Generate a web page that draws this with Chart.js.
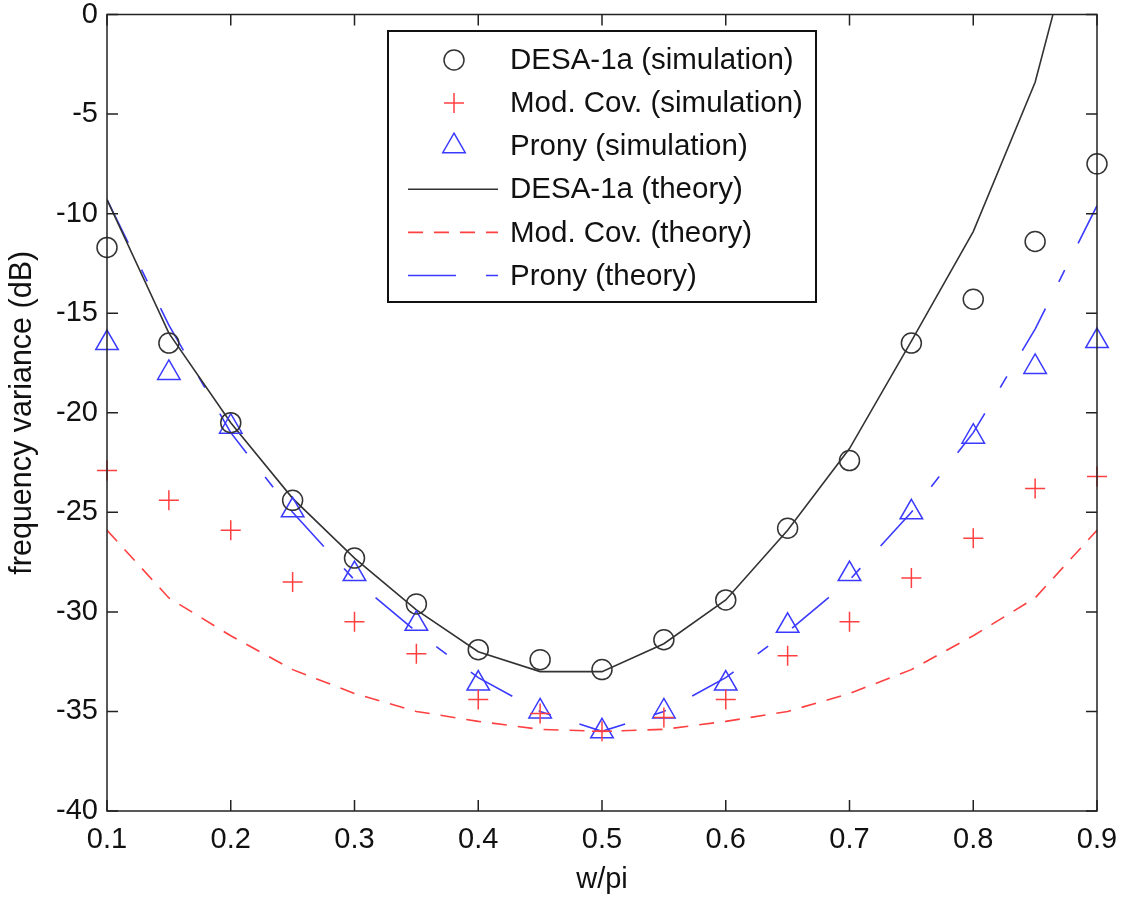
<!DOCTYPE html>
<html>
<head>
<meta charset="utf-8">
<script src="https://cdn.jsdelivr.net/npm/chart.js@4.4.1/dist/chart.umd.min.js"></script>
<style>
  html, body { margin: 0; padding: 0; background: #fff; }
  #wrap { width: 1143px; height: 900px; }
</style>
</head>
<body>
<div id="wrap"><canvas id="demo" width="1143" height="900"></canvas></div>
<script>
// values (dB)
const wpi = [0.1, 0.15, 0.2, 0.25, 0.3, 0.35, 0.4, 0.45, 0.5, 0.55, 0.6, 0.65, 0.7, 0.75, 0.8, 0.85, 0.9];

const desaSim   = [-11.7, -16.5, -20.5, -24.4, -27.3, -29.6, -31.9, -32.4, -32.9, -31.4, -29.4, -25.8, -22.4, -16.5, -14.3, -11.4, -7.5];
const modCovSim = [-22.9, -24.4, -25.9, -28.5, -30.5, -32.1, -34.4, -35.1, -36.0, -35.3, -34.4, -32.2, -30.5, -28.3, -26.3, -23.8, -23.2];
const pronySim  = [-16.5, -18.0, -20.7, -24.9, -28.1, -30.6, -33.6, -35.0, -36.0, -35.0, -33.6, -30.7, -28.1, -25.0, -21.2, -17.7, -16.4];

const desaTheory   = [-9.3, -16.0, -20.5, -24.3, -27.3, -29.9, -32.0, -33.0, -33.0, -31.6, -29.4, -25.9, -21.8, -16.4, -10.9, -3.4, 8.4];
const modCovTheory = [-25.9, -29.3, -31.2, -32.9, -34.1, -35.0, -35.5, -35.9, -36.0, -35.9, -35.5, -35.0, -34.1, -32.9, -31.2, -29.3, -25.9];
const pronyTheory  = [-9.3, -15.6, -21.0, -25.0, -28.4, -31.0, -33.3, -35.0, -36.0, -35.0, -33.3, -31.0, -28.4, -25.0, -21.0, -15.8, -9.6];

const xTicks = [0.1, 0.2, 0.3, 0.4, 0.5, 0.6, 0.7, 0.8, 0.9];
const yTicks = [-40, -35, -30, -25, -20, -15, -10, -5, 0];

const FONT = '"Liberation Sans", Arial, Helvetica, sans-serif';
const BLACK = "#333333";
const RED = "#ff4040";
const BLUE = "#3a3aff";

const pts = (ys) => wpi.map((x, i) => ({ x: x, y: ys[i] }));

// MATLAB-like box with inward ticks, plus the boxed legend
const matlabBox = {
  id: "matlabBox",
  afterDraw(chart) {
    const { ctx, chartArea: a, scales } = chart;
    ctx.save();
    ctx.strokeStyle = "#222";
    ctx.lineWidth = 1.5;
    ctx.strokeRect(a.left, a.top, a.right - a.left, a.bottom - a.top);
    ctx.beginPath();
    const tl = 11;
    xTicks.forEach((v) => {
      const px = scales.x.getPixelForValue(v);
      ctx.moveTo(px, a.bottom); ctx.lineTo(px, a.bottom - tl);
      ctx.moveTo(px, a.top); ctx.lineTo(px, a.top + tl);
    });
    yTicks.forEach((v) => {
      const py = scales.y.getPixelForValue(v);
      ctx.moveTo(a.left, py); ctx.lineTo(a.left + tl, py);
      ctx.moveTo(a.right, py); ctx.lineTo(a.right - tl, py);
    });
    ctx.stroke();

    // legend
    const lx = 388, ly = 31, lw = 428, lh = 271;
    ctx.fillStyle = "#fff";
    ctx.fillRect(lx, ly, lw, lh);
    ctx.strokeStyle = "#111";
    ctx.lineWidth = 2;
    ctx.strokeRect(lx, ly, lw, lh);

    ctx.font = "29.5px " + FONT;
    ctx.textBaseline = "middle";
    ctx.textAlign = "left";
    chart.data.datasets.forEach((ds, i) => {
      const cy = 60 + i * 43.1;
      if (ds.showLine === false) {
        ctx.fillStyle = "rgba(0,0,0,0)";
        ctx.strokeStyle = ds.borderColor;
        ctx.lineWidth = ds.pointBorderWidth;
        Chart.helpers.drawPoint(ctx, {
          pointStyle: ds.pointStyle,
          radius: ds.pointRadius,
          borderWidth: ds.pointBorderWidth,
          rotation: 0
        }, 454, cy);
      } else {
        ctx.strokeStyle = ds.borderColor;
        ctx.lineWidth = ds.borderWidth;
        ctx.setLineDash(ds.borderDash || []);
        ctx.beginPath();
        ctx.moveTo(408, cy); ctx.lineTo(498, cy);
        ctx.stroke();
        ctx.setLineDash([]);
      }
      ctx.fillStyle = "#111";
      ctx.fillText(ds.label, 510, cy + 1);
    });
    ctx.restore();
  }
};

const marker = (label, ys, style, color, r) => ({
  label: label,
  data: pts(ys),
  showLine: false,
  clip: false,
  pointStyle: style,
  pointRadius: r,
  pointBorderWidth: 1.5,
  borderColor: color,
  pointBorderColor: color,
  backgroundColor: "transparent",
  pointBackgroundColor: "transparent"
});

const theory = (label, ys, color, dash) => ({
  label: label,
  data: pts(ys),
  borderColor: color,
  borderWidth: 1.6,
  borderDash: dash,
  pointRadius: 0,
  tension: 0,
  fill: false
});

const ctx = document.getElementById("demo").getContext("2d");
new Chart(ctx, {
  type: "line",
  data: {
    datasets: [
      marker("DESA-1a (simulation)", desaSim, "circle", BLACK, 10),
      marker("Mod. Cov. (simulation)", modCovSim, "cross", RED, 10),
      marker("Prony (simulation)", pronySim, "triangle", BLUE, 13),
      theory("DESA-1a (theory)", desaTheory, BLACK, []),
      theory("Mod. Cov. (theory)", modCovTheory, RED, [15, 11]),
      theory("Prony (theory)", pronyTheory, BLUE, [48, 30, 13, 30])
    ]
  },
  options: {
    responsive: false,
    animation: false,
    layout: { padding: { top: 14, right: 46, left: 0, bottom: 0 } },
    plugins: {
      legend: { display: false },
      tooltip: { enabled: false }
    },
    scales: {
      x: {
        type: "linear",
        min: 0.1,
        max: 0.9,
        grid: { display: false },
        border: { display: false },
        afterBuildTicks: (s) => { s.ticks = xTicks.map((v) => ({ value: v })); },
        ticks: {
          color: "#111",
          font: { family: FONT, size: 29 },
          padding: 4,
          maxRotation: 0,
          callback: (v) => v.toFixed(1)
        },
        title: {
          display: true,
          text: "w/pi",
          color: "#111",
          font: { family: FONT, size: 29 },
          padding: { top: 0, bottom: 3 }
        },
        afterFit: (s) => { s.height = 89; s.paddingLeft = 0; s.paddingRight = 0; }
      },
      y: {
        min: -40,
        max: 0,
        grid: { display: false },
        border: { display: false },
        afterBuildTicks: (s) => { s.ticks = yTicks.map((v) => ({ value: v })); },
        ticks: {
          color: "#111",
          font: { family: FONT, size: 29 },
          padding: 1
        },
        title: {
          display: true,
          text: "frequency variance (dB)",
          color: "#111",
          font: { family: FONT, size: 30.5 },
          padding: { top: 4, bottom: 0 }
        },
        afterFit: (s) => { s.width = 107; s.paddingTop = 0; s.paddingBottom = 0; }
      }
    }
  },
  plugins: [matlabBox]
});
</script>
</body>
</html>
